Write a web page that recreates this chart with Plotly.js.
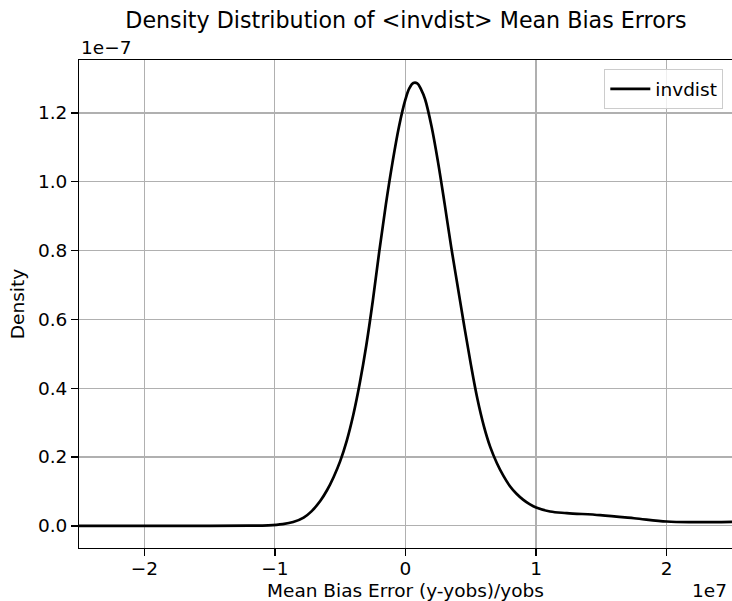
<!DOCTYPE html>
<html>
<head>
<meta charset="utf-8">
<script src="https://cdn.plot.ly/plotly-3.0.1.min.js"></script>
<style>html,body{margin:0;padding:0;background:#fff;}#chart{width:732px;height:601px;}</style>
</head>
<body>
<div id="chart"></div>
<script>
// x in units of 1e7, density in units of 1e-7 (matplotlib offset notation)
const mbeX = [-2.5, -1.5, -1.2, -1.05, -0.94, -0.86, -0.78, -0.72, -0.653, -0.6, -0.55, -0.5, -0.45, -0.4, -0.35, -0.3, -0.25, -0.2, -0.15, -0.1, -0.05, 0.0, 0.03, 0.06, 0.09, 0.12, 0.15, 0.2, 0.25, 0.3, 0.35, 0.4, 0.45, 0.5, 0.55, 0.6, 0.65, 0.7, 0.75, 0.8, 0.85, 0.9, 0.95, 1.0, 1.107, 1.235, 1.49, 1.75, 2.0, 2.2, 2.5];
const density = [0.0, 0.0, 0.0003, 0.0015, 0.005, 0.011, 0.024, 0.042, 0.072, 0.104, 0.142, 0.188, 0.247, 0.322, 0.415, 0.525, 0.655, 0.8, 0.935, 1.055, 1.16, 1.24, 1.272, 1.287, 1.286, 1.268, 1.24, 1.16, 1.055, 0.935, 0.81, 0.695, 0.58, 0.47, 0.37, 0.29, 0.228, 0.182, 0.145, 0.115, 0.093, 0.076, 0.063, 0.053, 0.0415, 0.037, 0.031, 0.022, 0.0125, 0.0107, 0.0116];
const xTickVals = [-2, -1, 0, 1, 2];
const xTickText = ["\u22122", "\u22121", "0", "1", "2"];
const yTickVals = [0.0, 0.2, 0.4, 0.6, 0.8, 1.0, 1.2];
const yTickText = ["0.0", "0.2", "0.4", "0.6", "0.8", "1.0", "1.2"];
const seriesName = "invdist";

const font = "DejaVu Sans, sans-serif";
const fs = 18.5;
const trace = {
  x: mbeX, y: density, type: "scatter", mode: "lines", name: seriesName,
  line: {color: "#000000", width: 2.7, shape: "spline", smoothing: 1}
};
const axisCommon = {
  showline: true, linecolor: "#000", linewidth: 1.4, mirror: true,
  ticks: "outside", ticklen: 6.5, tickwidth: 1.4, tickcolor: "#000",
  showgrid: true, gridcolor: "#b0b0b0", gridwidth: 1.2, zeroline: false,
  tickfont: {family: font, size: fs, color: "#000"}, automargin: false
};
const layout = {
  width: 732, height: 601,
  margin: {l: 79, r: 0, t: 60, b: 53},
  paper_bgcolor: "#fff", plot_bgcolor: "#fff",
  font: {family: font, color: "#000"},
  title: {text: "Density Distribution of &lt;invdist&gt; Mean Bias Errors", font: {family: font, size: 22.2, color: "#000"}, x: 0.5545, xanchor: "center", y: 0.966, yanchor: "middle"},
  xaxis: Object.assign({}, axisCommon, {
    range: [-2.5, 2.5], tickmode: "array", tickvals: xTickVals, ticktext: xTickText,
    ticklabelstandoff: -3,
    title: {text: "Mean Bias Error (y-yobs)/yobs", font: {family: font, size: fs, color: "#000"}, standoff: 8}
  }),
  yaxis: Object.assign({}, axisCommon, {
    range: [-0.0645, 1.354], tickmode: "array", tickvals: yTickVals, ticktext: yTickText,
    title: {text: "Density", font: {family: font, size: fs, color: "#000"}, standoff: 8}
  }),
  showlegend: true,
  legend: {x: 0.9867, xanchor: "right", y: 0.981, yanchor: "top", itemwidth: 40, bgcolor: "rgba(255,255,255,0.8)", bordercolor: "#cccccc", borderwidth: 1, font: {family: font, size: fs, color: "#000"}},
  annotations: [
    {text: "1e\u22127", xref: "paper", yref: "paper", x: 0, y: 1.0, xanchor: "left", yanchor: "bottom", yshift: 0, showarrow: false, font: {family: font, size: fs, color: "#000"}},
    {text: "1e7", xref: "paper", yref: "paper", x: 1.0, y: 0, xanchor: "right", yanchor: "top", yshift: -30, xshift: -3, showarrow: false, font: {family: font, size: fs, color: "#000"}}
  ]
};
Plotly.newPlot("chart", [trace], layout, {displayModeBar: false, staticPlot: true});
</script>
</body>
</html>
